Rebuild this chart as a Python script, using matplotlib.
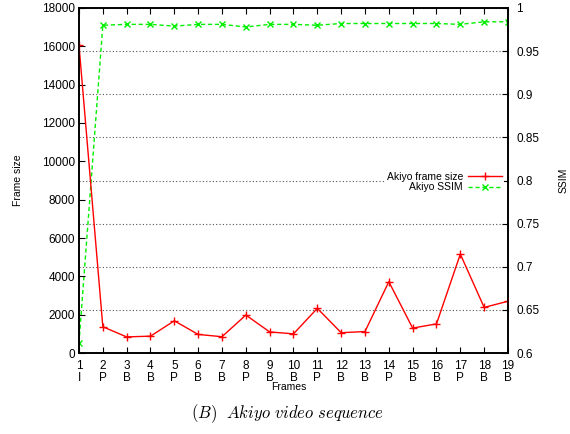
import numpy as np
import matplotlib
matplotlib.use("Agg")
import matplotlib.pyplot as plt

plt.rcParams['font.family'] = ['Liberation Sans', 'DejaVu Sans']
plt.rcParams['mathtext.fontset'] = 'cm'

# === Data ===
frames = list(range(1, 20))
frame_types = ['I', 'P', 'B', 'B', 'P', 'B', 'B', 'P', 'B', 'B',
               'P', 'B', 'B', 'P', 'B', 'B', 'P', 'B', 'B']
frame_size = [16050, 1370, 840, 880, 1680, 970, 850, 1980, 1100, 1000,
              2330, 1060, 1120, 3720, 1300, 1520, 5160, 2380, 2700]
ssim = [0.612, 0.980, 0.981, 0.981, 0.979, 0.981, 0.981, 0.978, 0.981, 0.981,
        0.980, 0.982, 0.982, 0.982, 0.982, 0.982, 0.981, 0.984, 0.984]

xticklabels = [f"{f}\n{t}" for f, t in zip(frames, frame_types)]

fig = plt.figure(figsize=(5.7, 4.34), dpi=100)
ax = fig.add_axes([0.1386, 0.1866, 0.7526, 0.795])
ax2 = ax.twinx()

# grid on the right axis ticks
ax2.grid(True, axis='y', linestyle=(0, (1, 2)), color='#555555', linewidth=0.8)
ax2.set_axisbelow(True)

ln1, = ax.plot(frames, frame_size, color='#ff0000', marker='+', markersize=6,
               linewidth=1, label='Akiyo frame size')
ln2, = ax2.plot(frames, ssim, color='#00ee00', marker='x', markersize=4,
                linewidth=1, linestyle=(0, (3, 2)), label='Akiyo SSIM')

# frame-size axes on top, white background from ax2
ax.set_zorder(ax2.get_zorder() + 1)
ax.patch.set_visible(False)
ax2.patch.set_visible(True)
ax2.patch.set_facecolor('white')

ax.set_xlim(1, 19)
ax.set_ylim(0, 18000)
ax2.set_ylim(0.6, 1.0)
ax.set_xticks(frames)
ax.set_xticklabels(xticklabels, linespacing=0.95)
ax.set_yticks(np.arange(0, 18001, 2000))
ax2.set_yticks(np.arange(0.6, 1.0001, 0.05))
ax2.set_yticklabels(['0.6', '0.65', '0.7', '0.75', '0.8', '0.85', '0.9', '0.95', '1'])

ax.tick_params(axis='both', direction='in', labelsize=8.5, length=4, width=0.8,
               top=True, pad=3)
ax2.tick_params(axis='y', direction='in', labelsize=8.5, length=4, width=0.8, pad=6)
ax.tick_params(axis='x', pad=5)

for a in (ax, ax2):
    for s in a.spines.values():
        s.set_linewidth(1.2)

ax.set_xlabel('Frames', fontsize=7.5)
ax.xaxis.set_label_coords(0.49, -0.084)
ax.set_ylabel('Frame size', fontsize=7.5)
ax.yaxis.set_label_coords(-0.13, 0.5)
ax2.set_ylabel('SSIM', fontsize=7.5, labelpad=14)

leg = ax.legend(handles=[ln1, ln2], loc='center right',
                bbox_to_anchor=(0.99, 0.495), markerfirst=False, frameon=True,
                fontsize=7.5, handlelength=3.2, handletextpad=0.5,
                borderpad=0.2, labelspacing=0.05, borderaxespad=0)
leg.get_frame().set_edgecolor('none')
leg.get_frame().set_facecolor('white')
leg.get_frame().set_alpha(1)
leg._legend_box.align = 'right'

fig.text(0.505, 0.048, r'$(B)\ \ Akiyo\ video\ sequence$', ha='center',
         va='center', fontsize=12)

fig.savefig('out.png', dpi=100)
